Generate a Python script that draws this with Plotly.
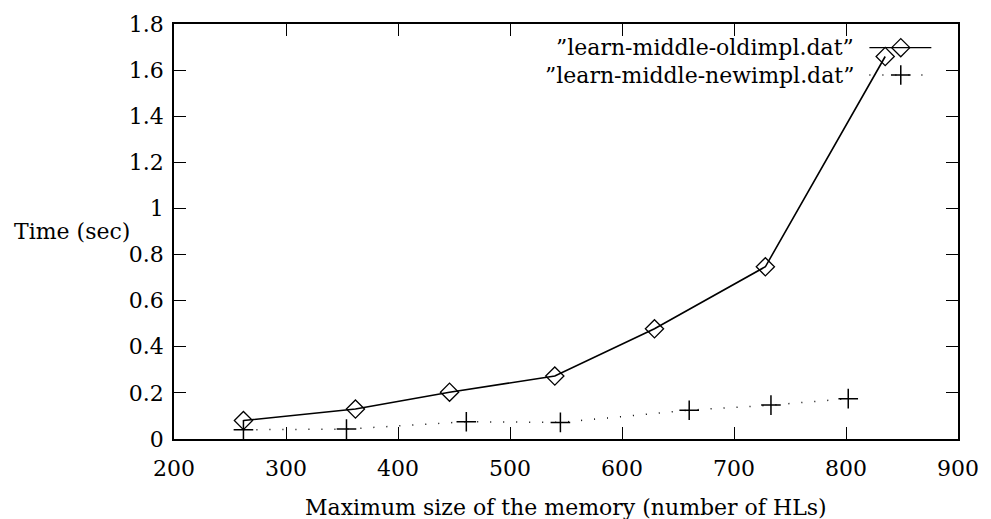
import plotly.graph_objects as go

# Timing results: old vs new implementation
old_size = [262, 362, 446, 540, 629, 728, 835]
old_time = [0.080, 0.130, 0.203, 0.273, 0.478, 0.747, 1.659]

new_size = [262, 354, 461, 545, 660, 733, 802]
new_time = [0.040, 0.043, 0.075, 0.072, 0.125, 0.147, 0.175]

x_ticks = [200, 300, 400, 500, 600, 700, 800, 900]
y_ticks = [0, 0.2, 0.4, 0.6, 0.8, 1.0, 1.2, 1.4, 1.6, 1.8]
y_tick_text = ["0", "0.2", "0.4", "0.6", "0.8", "1", "1.2", "1.4", "1.6", "1.8"]

old_label = "\u201dlearn-middle-oldimpl.dat\u201d"
new_label = "\u201dlearn-middle-newimpl.dat\u201d"

FONT = "'DejaVu Serif', 'Liberation Serif', serif"
FS = 22

fig = go.Figure()

fig.add_trace(go.Scatter(
    x=old_size, y=old_time, mode="lines+markers",
    line=dict(color="black", width=1.6),
    marker=dict(symbol="diamond-open", size=14, color="black", line=dict(width=1.3)),
    showlegend=False,
))
fig.add_trace(go.Scatter(
    x=new_size, y=new_time, mode="lines+markers",
    line=dict(color="black", width=1.5, dash="1px,12px"),
    marker=dict(symbol="cross-thin-open", size=14, color="black", line=dict(width=1.5, color="black")),
    showlegend=False,
))

# Key samples drawn on an overlay axis spanning the plot area (0..1)
key_x = [0.887, 0.927, 0.966]
key_rows = [0.943, 0.877]
fig.add_trace(go.Scatter(
    x=[key_x[0], key_x[2]], y=[key_rows[0]] * 2, mode="lines",
    line=dict(color="black", width=1.2), xaxis="x2", yaxis="y2", showlegend=False,
))
fig.add_trace(go.Scatter(
    x=[key_x[1]], y=[key_rows[0]], mode="markers",
    marker=dict(symbol="diamond-open", size=14, color="black", line=dict(width=1.3)),
    xaxis="x2", yaxis="y2", showlegend=False,
))
fig.add_trace(go.Scatter(
    x=[key_x[0], key_x[2]], y=[key_rows[1]] * 2, mode="lines",
    line=dict(color="black", width=1.5, dash="1px,12px"), xaxis="x2", yaxis="y2", showlegend=False,
))
fig.add_trace(go.Scatter(
    x=[key_x[1]], y=[key_rows[1]], mode="markers",
    marker=dict(symbol="cross-thin-open", size=14, color="black", line=dict(width=1.5, color="black")),
    xaxis="x2", yaxis="y2", showlegend=False,
))

annotations = [
    dict(text=old_label, x=0.870, y=key_rows[0], xref="paper", yref="paper",
         xanchor="right", yanchor="middle", showarrow=False,
         font=dict(family=FONT, size=FS, color="black")),
    dict(text=new_label, x=0.870, y=key_rows[1], xref="paper", yref="paper",
         xanchor="right", yanchor="middle", showarrow=False,
         font=dict(family=FONT, size=FS, color="black")),
    dict(text="Time (sec)", x=-0.206, y=0.50, xref="paper", yref="paper",
         xanchor="left", yanchor="middle", showarrow=False,
         font=dict(family=FONT, size=FS, color="black")),
    dict(text="Maximum size of the memory (number of HLs)", x=0.5, y=-0.165,
         xref="paper", yref="paper", xanchor="center", yanchor="middle", showarrow=False,
         font=dict(family=FONT, size=FS, color="black")),
]

axis_common = dict(
    showline=True, linecolor="black", linewidth=1.5, mirror="allticks",
    ticks="inside", ticklen=12, tickwidth=1.2, tickcolor="black",
    showgrid=False, zeroline=False,
    tickfont=dict(family=FONT, size=FS, color="black"),
)

fig.update_layout(
    width=991, height=519,
    margin=dict(l=174, r=24, t=22, b=80),
    paper_bgcolor="white", plot_bgcolor="white",
    xaxis=dict(range=[200, 900], tickvals=x_ticks, ticklabelstandoff=9, **axis_common),
    yaxis=dict(range=[0, 1.8], tickvals=y_ticks, ticktext=y_tick_text, ticklabelstandoff=4, **axis_common),
    xaxis2=dict(range=[0, 1], overlaying="x", visible=False),
    yaxis2=dict(range=[0, 1], overlaying="y", visible=False),
    annotations=annotations,
)

fig.write_html("out.html")
